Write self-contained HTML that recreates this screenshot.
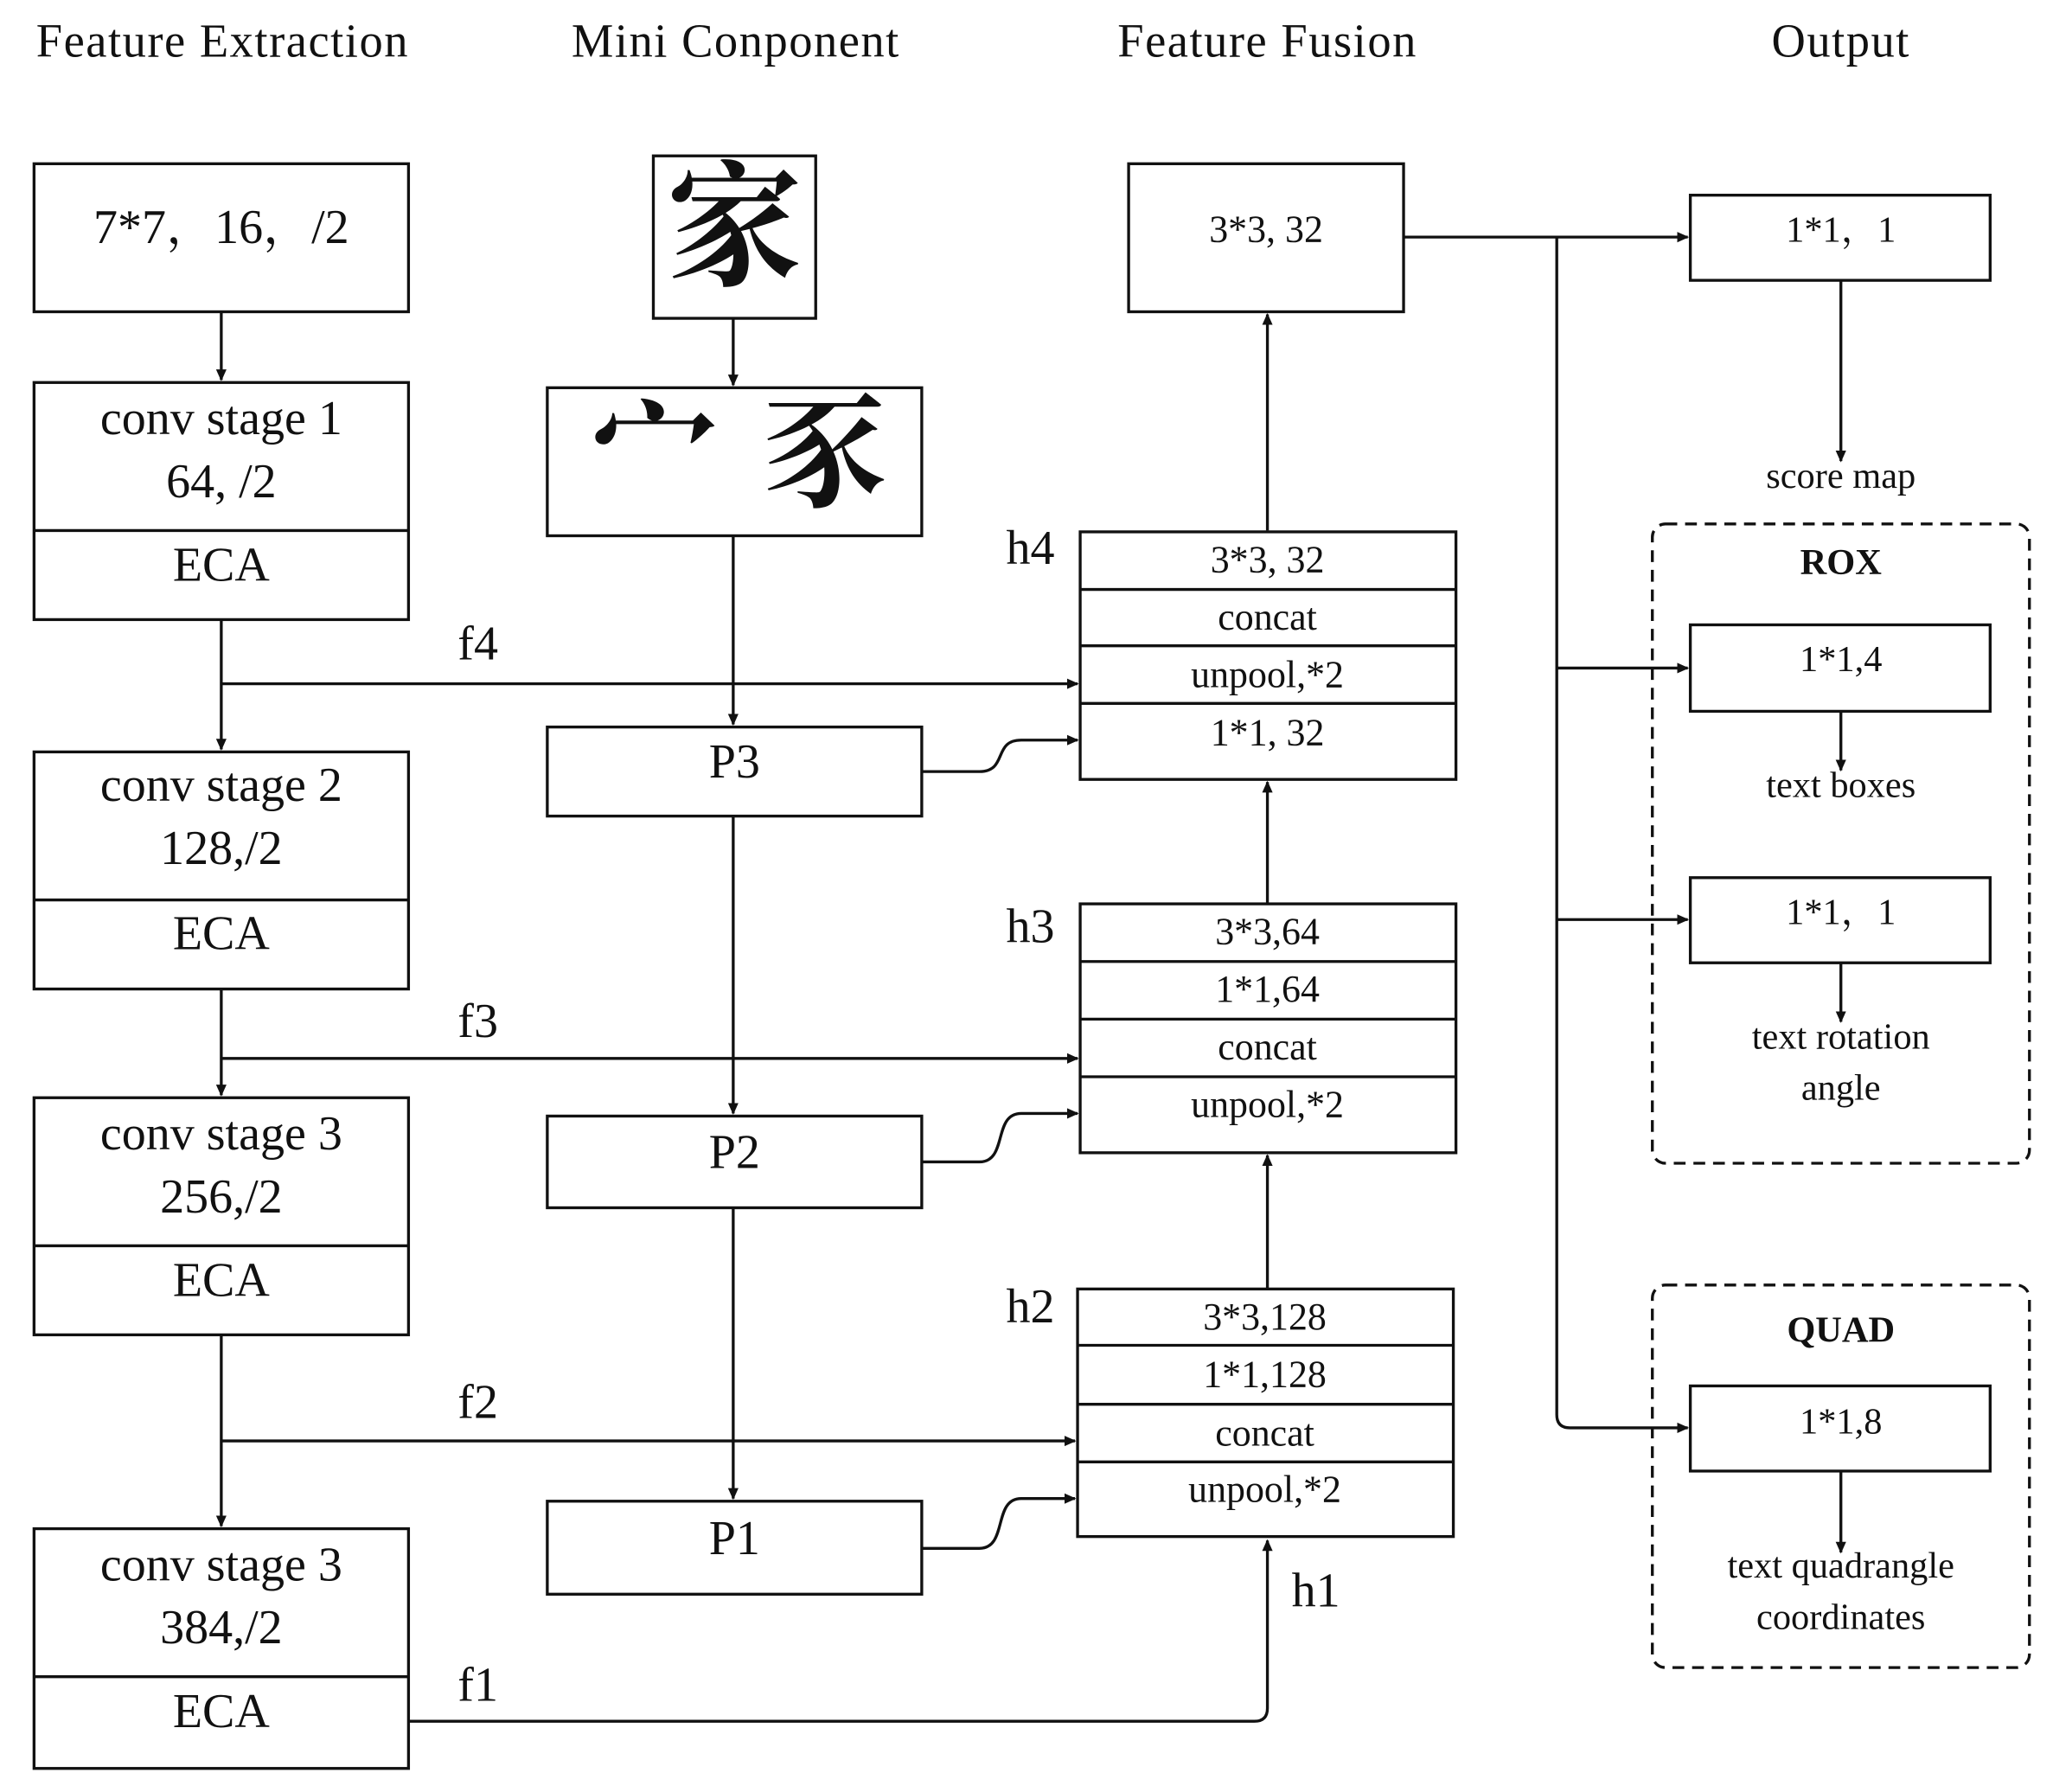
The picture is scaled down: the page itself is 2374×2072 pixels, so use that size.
<!DOCTYPE html>
<html><head><meta charset="utf-8"><style>
html,body{margin:0;padding:0;background:#fff;}
svg{display:block;}
text{font-family:"Liberation Serif","Noto Serif CJK SC",serif;fill:#111;text-anchor:middle;dominant-baseline:middle;}
.h{font-size:36px;letter-spacing:1px;}
.b{font-size:37px;}
.s{font-size:29px;}
.o{font-size:28px;}
</style></head><body>
<svg width="2374" height="2072" viewBox="0 0 1568 1368" preserveAspectRatio="none" xmlns="http://www.w3.org/2000/svg">
<defs><marker id="a" markerWidth="10" markerHeight="10" refX="8" refY="5" orient="auto" markerUnits="userSpaceOnUse"><path d="M0,1 L9,5 L0,9 z" fill="#111"/></marker></defs>
<g fill="none" stroke="#111" stroke-width="2.2">
<rect x="26" y="125" width="286" height="113"/>
<rect x="26" y="292" width="286" height="181"/><line x1="26" y1="405" x2="312" y2="405"/>
<rect x="26" y="574" width="286" height="181"/><line x1="26" y1="687" x2="312" y2="687"/>
<rect x="26" y="838" width="286" height="181"/><line x1="26" y1="951" x2="312" y2="951"/>
<rect x="26" y="1167" width="286" height="183"/><line x1="26" y1="1280" x2="312" y2="1280"/>
<line x1="169" y1="238" x2="169" y2="290" marker-end="url(#a)"/>
<line x1="169" y1="473" x2="169" y2="572" marker-end="url(#a)"/>
<line x1="169" y1="522" x2="823" y2="522" marker-end="url(#a)"/>
<line x1="169" y1="755" x2="169" y2="836" marker-end="url(#a)"/>
<line x1="169" y1="808" x2="823" y2="808" marker-end="url(#a)"/>
<line x1="169" y1="1019" x2="169" y2="1165" marker-end="url(#a)"/>
<line x1="169" y1="1100" x2="821" y2="1100" marker-end="url(#a)"/>
<path d="M312,1314 L958,1314 Q968,1314 968,1304 L968,1176" marker-end="url(#a)"/>
<rect x="499" y="119" width="124" height="124"/>
<rect x="418" y="296" width="286" height="113"/>
<rect x="418" y="555" width="286" height="68"/>
<rect x="418" y="852" width="286" height="70"/>
<rect x="418" y="1146" width="286" height="71"/>
<line x1="560" y1="243" x2="560" y2="294" marker-end="url(#a)"/>
<line x1="560" y1="409" x2="560" y2="553" marker-end="url(#a)"/>
<line x1="560" y1="623" x2="560" y2="850" marker-end="url(#a)"/>
<line x1="560" y1="922" x2="560" y2="1144" marker-end="url(#a)"/>
<path d="M704,589 L748,589 C770,589 758,565 780,565 L823,565" marker-end="url(#a)"/>
<path d="M704,887 L748,887 C770,887 758,850 780,850 L823,850" marker-end="url(#a)"/>
<path d="M704,1182 L748,1182 C770,1182 758,1144 780,1144 L821,1144" marker-end="url(#a)"/>
<rect x="862" y="125" width="210" height="113"/>
<rect x="825" y="406" width="287" height="189"/><line x1="825" y1="450" x2="1112" y2="450"/><line x1="825" y1="493" x2="1112" y2="493"/><line x1="825" y1="537" x2="1112" y2="537"/>
<rect x="825" y="690" width="287" height="190"/><line x1="825" y1="734" x2="1112" y2="734"/><line x1="825" y1="778" x2="1112" y2="778"/><line x1="825" y1="822" x2="1112" y2="822"/>
<rect x="823" y="984" width="287" height="189"/><line x1="823" y1="1027" x2="1110" y2="1027"/><line x1="823" y1="1072" x2="1110" y2="1072"/><line x1="823" y1="1116" x2="1110" y2="1116"/>
<line x1="968" y1="405" x2="968" y2="240" marker-end="url(#a)"/>
<line x1="968" y1="690" x2="968" y2="597" marker-end="url(#a)"/>
<line x1="968" y1="984" x2="968" y2="882" marker-end="url(#a)"/>
<line x1="1072" y1="181" x2="1289" y2="181" marker-end="url(#a)"/>
<path d="M1189,181 L1189,1080 Q1189,1090 1199,1090 L1289,1090" marker-end="url(#a)"/>
<line x1="1189" y1="510" x2="1289" y2="510" marker-end="url(#a)"/>
<line x1="1189" y1="702" x2="1289" y2="702" marker-end="url(#a)"/>
<rect x="1291" y="149" width="229" height="65"/>
<line x1="1406" y1="214" x2="1406" y2="352" marker-end="url(#a)"/>
<rect x="1262" y="400" width="288" height="488" rx="10" stroke-dasharray="9,6"/>
<rect x="1291" y="477" width="229" height="66"/>
<line x1="1406" y1="543" x2="1406" y2="588" marker-end="url(#a)"/>
<rect x="1291" y="670" width="229" height="65"/>
<line x1="1406" y1="735" x2="1406" y2="780" marker-end="url(#a)"/>
<rect x="1262" y="981" width="288" height="292" rx="10" stroke-dasharray="9,6"/>
<rect x="1291" y="1058" width="229" height="65"/>
<line x1="1406" y1="1123" x2="1406" y2="1185" marker-end="url(#a)"/>
</g>
<text class="h" x="170" y="35">Feature Extraction</text>
<text class="h" x="562" y="35">Mini Conponent</text>
<text class="h" x="968" y="35">Feature Fusion</text>
<text class="h" x="1406" y="35">Output</text>
<text class="b" x="169" y="177">7*7，16，/2</text>
<text class="b" x="169" y="323">conv stage 1</text><text class="b" x="169" y="371">64, /2</text><text class="b" x="169" y="435">ECA</text>
<text class="b" x="169" y="603">conv stage 2</text><text class="b" x="169" y="651">128,/2</text><text class="b" x="169" y="716">ECA</text>
<text class="b" x="169" y="869">conv stage 3</text><text class="b" x="169" y="917">256,/2</text><text class="b" x="169" y="981">ECA</text>
<text class="b" x="169" y="1198">conv stage 3</text><text class="b" x="169" y="1246">384,/2</text><text class="b" x="169" y="1310">ECA</text>
<text class="b" x="365" y="495">f4</text><text class="b" x="365" y="783">f3</text><text class="b" x="365" y="1074">f2</text><text class="b" x="365" y="1290">f1</text>
<text class="b" x="1005" y="1218">h1</text><text class="b" x="787" y="422">h4</text><text class="b" x="787" y="711">h3</text><text class="b" x="787" y="1001">h2</text>
<text x="561" y="183" style="font-size:104px;font-weight:bold;font-family:'Noto Serif CJK SC',serif">家</text>
<text x="500" y="355" style="font-size:96px;font-weight:bold;font-family:'Noto Serif CJK SC',serif">宀</text>
<text x="630" y="355" style="font-size:96px;font-weight:bold;font-family:'Noto Serif CJK SC',serif">豕</text>
<text class="b" x="561" y="585">P3</text><text class="b" x="561" y="883">P2</text><text class="b" x="561" y="1178">P1</text>
<text class="s" x="967" y="178">3*3, 32</text>
<text class="s" x="968" y="430">3*3, 32</text><text class="s" x="968" y="474">concat</text><text class="s" x="968" y="518">unpool,*2</text><text class="s" x="968" y="562">1*1, 32</text>
<text class="s" x="968" y="714">3*3,64</text><text class="s" x="968" y="758">1*1,64</text><text class="s" x="968" y="802">concat</text><text class="s" x="968" y="846">unpool,*2</text>
<text class="s" x="966" y="1008">3*3,128</text><text class="s" x="966" y="1052">1*1,128</text><text class="s" x="966" y="1097">concat</text><text class="s" x="966" y="1140">unpool,*2</text>
<text class="o" x="1406" y="178">1*1，1</text>
<text class="o" x="1406" y="366">score map</text>
<text class="o" x="1406" y="432" style="font-weight:bold">ROX</text>
<text class="o" x="1406" y="506">1*1,4</text>
<text class="o" x="1406" y="602">text boxes</text>
<text class="o" x="1406" y="699">1*1，1</text>
<text class="o" x="1406" y="794">text rotation</text>
<text class="o" x="1406" y="833">angle</text>
<text class="o" x="1406" y="1018" style="font-weight:bold">QUAD</text>
<text class="o" x="1406" y="1088">1*1,8</text>
<text class="o" x="1406" y="1198">text quadrangle</text>
<text class="o" x="1406" y="1237">coordinates</text>
</svg>
</body></html>
